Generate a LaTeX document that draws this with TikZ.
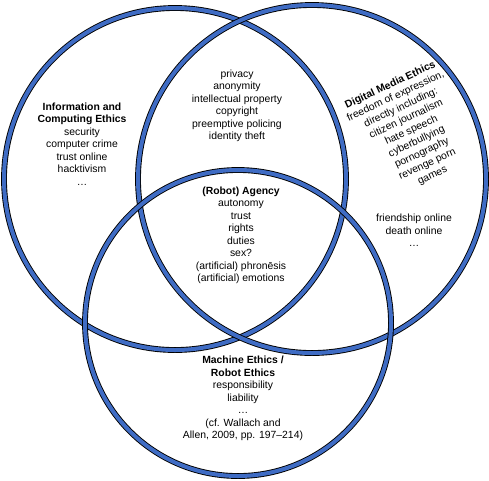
\documentclass[tikz,border=0pt]{standalone}
\usepackage{fontspec}
\setmainfont{Liberation Sans}
\definecolor{ringblue}{RGB}{63,108,196}
\begin{document}
\begin{tikzpicture}[x=1pt,y=-1pt,
  ring/.style={draw=black, line width=0.9pt, double=ringblue, double distance=4pt},
  lbl/.style={align=center, inner sep=0pt, font=\fontsize{10.4}{12.5}\selectfont}]
\useasboundingbox[fill=white] (0,0) rectangle (489,480);
\draw[ring] (175,179) circle[radius=171];
\draw[ring] (312,179) circle[radius=174];
\draw[ring] (238,323) circle[radius=153];
\node[lbl] (ice) at (82,144) {\textbf{Information and}\\\textbf{Computing Ethics}\\security\\computer crime\\trust online\\hacktivism\\…};
\node[lbl] (top) at (237,106) {privacy\\anonymity\\intellectual property\\copyright\\preemptive policing\\identity theft};
\node[lbl] (dme) at (411.5,130.5) [rotate=25] {\textbf{Digital Media Ethics}\\freedom of expression,\\directly including:\\citizen journalism\\hate speech\\cyberbullying\\pornography\\revenge porn\\games};
\node[lbl] (fr) at (414,230.5) {friendship online\\death online\\…};
\node[lbl] (ra) at (241,235.5) {\textbf{(Robot) Agency}\\autonomy\\trust\\rights\\duties\\sex?\\(artificial) phronēsis\\(artificial) emotions};
\node[lbl] (me) at (243,398.5) {\textbf{Machine Ethics /}\\\textbf{Robot Ethics}\\responsibility\\liability\\…\\(cf. Wallach and\\Allen, 2009, pp. 197–214)};
\end{tikzpicture}
\end{document}
